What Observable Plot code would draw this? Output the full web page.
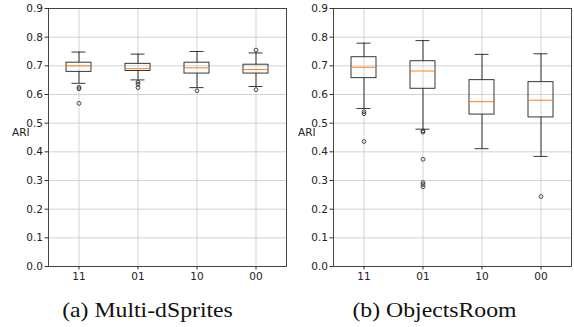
<!DOCTYPE html>
<html>
<head>
<meta charset="utf-8">
<script src="https://cdn.jsdelivr.net/npm/d3@7"></script>
<script src="https://cdn.jsdelivr.net/npm/@observablehq/plot@0.6"></script>
<style>
  html, body { margin: 0; padding: 0; background: #fff; }
  #wrap { position: relative; width: 574px; height: 327px; overflow: hidden; }
  .panel { position: absolute; top: 0; }
  .cap { position: absolute; top: 298px; font-family: "Liberation Serif", "Times New Roman", serif; font-size: 21px; color: #111; text-align: center; width: 287px; transform: scaleX(1.13); transform-origin: center; white-space: nowrap; }
  .ylab { position: absolute; font-family: "DejaVu Sans", sans-serif; font-size: 10.5px; color: #222; }
</style>
</head>
<body>
<div id="wrap"></div>
<script>
const categories = ["11", "01", "10", "00"];

// (a) Multi-dSprites
const dsLow    = [0.639, 0.651, 0.624, 0.628];
const dsQ1     = [0.679, 0.682, 0.673, 0.673];
const dsMedian = [0.700, 0.690, 0.693, 0.687];
const dsQ3     = [0.711, 0.707, 0.711, 0.704];
const dsHigh   = [0.748, 0.741, 0.750, 0.745];
const dsOutCat = ["11", "11", "11", "01", "01", "01", "10", "00", "00"];
const dsOutVal = [0.625, 0.620, 0.569, 0.643, 0.636, 0.624, 0.613, 0.755, 0.617];

// (b) ObjectsRoom
const orLow    = [0.551, 0.479, 0.411, 0.384];
const orQ1     = [0.657, 0.620, 0.530, 0.520];
const orMedian = [0.695, 0.682, 0.575, 0.580];
const orQ3     = [0.730, 0.716, 0.650, 0.643];
const orHigh   = [0.779, 0.788, 0.740, 0.742];
const orOutCat = ["11", "11", "11", "01", "01", "01", "01", "01", "01", "00"];
const orOutVal = [0.540, 0.533, 0.436, 0.473, 0.469, 0.374, 0.293, 0.286, 0.278, 0.244];

const yTicks = [0, 0.1, 0.2, 0.3, 0.4, 0.5, 0.6, 0.7, 0.8, 0.9];

function makePanel(low, q1, med, q3, high, outCat, outVal, marginLeft, marginRight) {
  const stats = categories.map((c, i) => ({cat: c, lo: low[i], q1: q1[i], med: med[i], q3: q3[i], hi: high[i]}));
  const outs = outCat.map((c, i) => ({cat: c, v: outVal[i]}));
  return Plot.plot({
    width: 287,
    height: 286,
    marginTop: 8,
    marginBottom: 20,
    marginLeft,
    marginRight,
    style: {fontFamily: "DejaVu Sans, sans-serif", fontSize: "10.5px", color: "#222", background: "white"},
    x: {type: "band", domain: categories, paddingInner: 0.58, paddingOuter: 0.29, label: null},
    y: {domain: [0, 0.9], label: null},
    marks: [
      Plot.gridY(yTicks, {stroke: "#c8c8c8", strokeOpacity: 1, strokeWidth: 0.8}),
      Plot.gridX(categories, {stroke: "#c8c8c8", strokeOpacity: 1, strokeWidth: 0.8}),
      Plot.axisY(yTicks, {tickFormat: d3.format(".1f"), tickSize: 3.5, tickPadding: 2, stroke: "#333", fontSize: 10.5}),
      Plot.axisX(categories, {tickSize: 3.5, tickPadding: 3, stroke: "#333", fontSize: 10.5}),
      Plot.ruleX(stats, {x: "cat", y1: "lo", y2: "q1", stroke: "#222", strokeWidth: 0.9}),
      Plot.ruleX(stats, {x: "cat", y1: "q3", y2: "hi", stroke: "#222", strokeWidth: 0.9}),
      Plot.tickY(stats, {x: "cat", y: "lo", stroke: "#222", strokeWidth: 0.9, insetLeft: 5.5, insetRight: 5.5}),
      Plot.tickY(stats, {x: "cat", y: "hi", stroke: "#222", strokeWidth: 0.9, insetLeft: 5.5, insetRight: 5.5}),
      Plot.barY(stats, {x: "cat", y1: "q1", y2: "q3", fill: "none", stroke: "#222", strokeWidth: 0.9}),
      Plot.tickY(stats, {x: "cat", y: "med", stroke: "#ff7f0e", strokeWidth: 1}),
      Plot.dot(outs, {x: "cat", y: "v", r: 1.9, stroke: "#222", strokeWidth: 0.8, fill: "none"}),
      Plot.frame({stroke: "#333", strokeWidth: 0.9})
    ]
  });
}

const wrap = document.getElementById("wrap");

const p1 = makePanel(dsLow, dsQ1, dsMedian, dsQ3, dsHigh, dsOutCat, dsOutVal, 48, 1);
p1.classList.add("panel");
p1.style.left = "0px";
wrap.appendChild(p1);

const p2 = makePanel(orLow, orQ1, orMedian, orQ3, orHigh, orOutCat, orOutVal, 46, 3);
p2.classList.add("panel");
p2.style.left = "287px";
wrap.appendChild(p2);

function addText(cls, text, left, top) {
  const d = document.createElement("div");
  d.className = cls;
  d.textContent = text;
  d.style.left = left + "px";
  d.style.top = top + "px";
  wrap.appendChild(d);
}
addText("ylab", "ARI", 12, 126);
addText("ylab", "ARI", 298, 126);
addText("cap", "(a) Multi-dSprites", 4, 298);
addText("cap", "(b) ObjectsRoom", 291, 298);
</script>
</body>
</html>
